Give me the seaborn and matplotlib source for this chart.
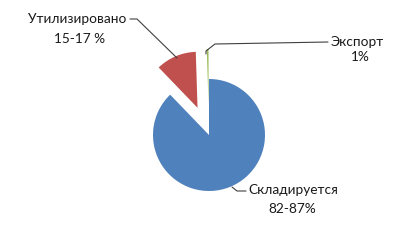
import matplotlib
matplotlib.use("Agg")
import matplotlib.pyplot as plt
import seaborn as sns

categories = ["Складируется", "Утилизировано", "Экспорт"]
values = [87.8, 11.7, 0.5]
name_labels = ["Складируется", "Утилизировано", "Экспорт"]
pct_labels = ["82-87%", "15-17 %", "1%"]

sns.set_theme(style="white")
plt.rcParams['font.family'] = ['Lato', 'DejaVu Sans']

colors = ["#4F81BD", "#C0504D", "#9BBB59"]

fig = plt.figure(figsize=(3.96, 2.46), dpi=100)
ax = fig.add_axes([0, 0, 1, 1])

H = 246
cx, cy, r = 209, H - 135, 56
wedges, _ = ax.pie(values, colors=colors, startangle=90, counterclock=False,
                   explode=[0, 29.5, 30], center=(cx, cy), radius=r,
                   wedgeprops=dict(linewidth=0))
ax.set_xlim(0, 396)
ax.set_ylim(0, 246)
ax.set_aspect('equal')
ax.axis('off')

fs = 9.8
tc = "#1a1a1a"
lc = "#404040"
# Складируется
ax.text(293, H - 190, name_labels[0], ha='center', va='center', fontsize=fs, color=tc)
ax.text(292, H - 209, pct_labels[0], ha='center', va='center', fontsize=fs, color=tc)
ax.plot([232, 237, 246], [H - 187, H - 191, H - 191], color=lc, lw=0.8)
# Утилизировано
ax.text(77.5, H - 19, name_labels[1], ha='center', va='center', fontsize=fs, color=tc)
ax.text(79.5, H - 39, pct_labels[1], ha='center', va='center', fontsize=fs, color=tc)
ax.plot([130, 137, 177], [H - 19, H - 19, H - 58], color=lc, lw=0.8)
# Экспорт
ax.text(357.5, H - 42, name_labels[2], ha='center', va='center', fontsize=fs, color=tc)
ax.text(360, H - 57, pct_labels[2], ha='center', va='center', fontsize=fs, color=tc)
ax.plot([328, 215, 206, 206], [H - 42, H - 44, H - 51, H - 54], color=lc, lw=0.8)

fig.savefig("out.png", dpi=100)
